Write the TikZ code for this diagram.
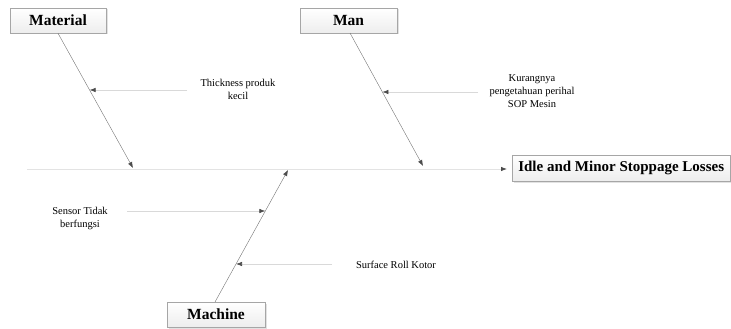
\documentclass[tikz,border=0pt]{standalone}
\usepackage{fontspec}
\setmainfont{Liberation Serif}
\usetikzlibrary{arrows.meta,shadows,calc}
\begin{document}
\begin{tikzpicture}[x=1pt,y=-1pt,
  tipdark/.tip={Latex[length=6pt,width=4.5pt,color=black!70]},
  catbox/.style={draw=gray!70, line width=0.5pt, top color=white, bottom color=gray!14,
    drop shadow={shadow xshift=1.5pt,shadow yshift=-1.5pt,fill=gray!45},
    font=\fontsize{15.5}{18}\selectfont\bfseries, inner sep=0pt, minimum height=25pt},
  cause/.style={font=\fontsize{10.5}{13}\selectfont, align=center, inner sep=0pt},
  bone/.style={draw=black!55, line width=0.4pt, -tipdark},
  twig/.style={draw=gray!30, line width=0.6pt, -tipdark},
  spine/.style={draw=gray!22, line width=0.8pt, -tipdark, shorten >=5pt}]
\useasboundingbox (0,0) rectangle (731,329);
% category boxes
\node[catbox, minimum width=96pt] (mat) at (58,20.5) {Material};
\node[catbox, minimum width=97pt] (man) at (348.5,20.5) {Man};
\node[catbox, minimum width=98pt] (mach) at (216,314.5) {Machine};
\node[catbox, anchor=west, inner xsep=6pt, minimum height=26pt,
  font=\fontsize{15}{18}\selectfont\bfseries] (eff) at (512,168) {Idle and Minor Stoppage Losses};
% spine
\coordinate (sp) at (27,169);
\draw[spine] (sp) -- (sp -| eff.west);
% bone ends
\coordinate (b1) at (133,168);
\coordinate (b2) at (423,166);
\coordinate (b3) at (288,170);
\coordinate (m3) at (215,302);
\draw[bone] (mat.south) -- (b1);
\draw[bone] (350,33) coordinate (m2) -- (b2);
\draw[bone] (m3) -- (b3);
% cause texts
\node[cause] (t1) at (238,89) {Thickness produk\\kecil};
\node[cause] (t2) at (532,91) {Kurangnya\\pengetahuan perihal\\SOP Mesin};
\node[cause] (t3) at (80,218) {Sensor Tidak\\berfungsi};
\node[cause] (t4) at (396,265) {Surface Roll Kotor};
% twig starts and targets
\coordinate (s1) at (187,90);
\coordinate (s2) at (478,92);
\coordinate (s3) at (127,211);
\coordinate (s4) at (332,264);
\coordinate (c1) at ($(mat.south)!0.422!(b1)$);
\coordinate (c2) at ($(m2)!0.444!(b2)$);
\coordinate (c3) at ($(m3)!0.689!(b3)$);
\coordinate (c4) at ($(m3)!0.288!(b3)$);
\draw[twig] (s1) -- (s1 -| c1);
\draw[twig] (s2) -- (s2 -| c2);
\draw[twig] (s3) -- (s3 -| c3);
\draw[twig] (s4) -- (s4 -| c4);
\end{tikzpicture}
\end{document}
